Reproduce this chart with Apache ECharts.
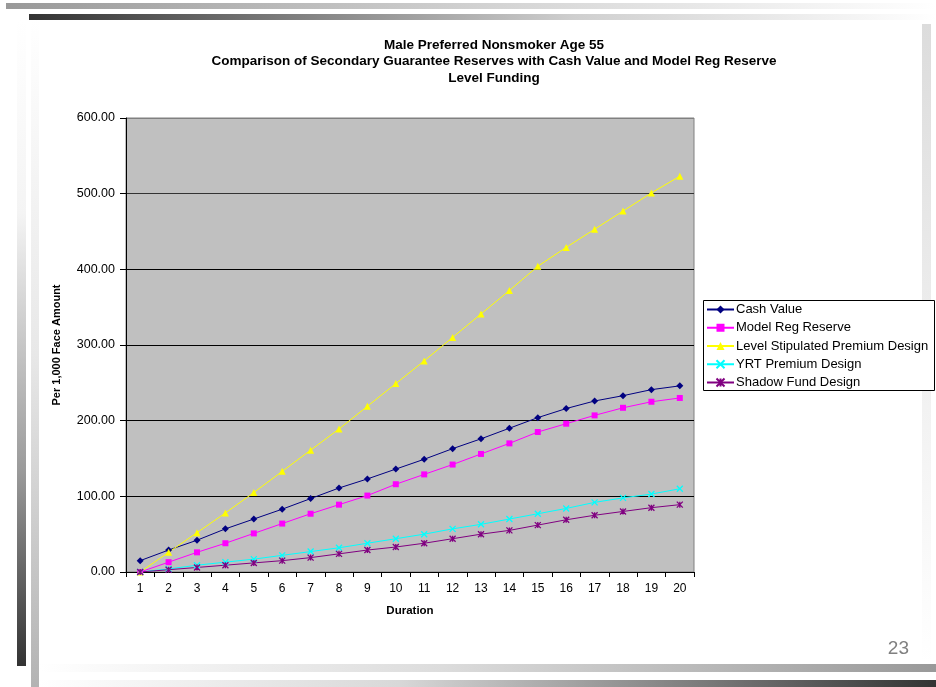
<!DOCTYPE html>
<html>
<head>
<meta charset="utf-8">
<title>Male Preferred Nonsmoker Age 55</title>
<script src="https://cdn.jsdelivr.net/npm/echarts@6/dist/echarts.min.js"></script>
<style>
  html, body { margin: 0; padding: 0; background: #ffffff; }
  #chart { width: 936px; height: 687px; }
</style>
</head>
<body>
<div id="chart"></div>
<script>
// Policy durations (years)
const durations = ['1','2','3','4','5','6','7','8','9','10','11','12','13','14','15','16','17','18','19','20'];

// Reserve and value amounts per 1,000 face amount
const cashValue = [15, 29, 42, 57, 70, 83, 97, 111, 123, 136, 149, 163, 176, 190, 204, 216, 226, 233, 241, 246];
const modelRegReserve = [0, 13, 26, 38, 51, 64, 77, 89, 101, 116, 129, 142, 156, 170, 185, 196, 207, 217, 225, 230];
const levelStipulated = [0, 26, 52, 78, 105, 133, 161, 189, 219, 249, 279, 310, 341, 372, 404, 429, 453, 477, 501, 523];
const yrtPremium = [0, 4, 9, 13, 17, 22, 27, 32, 38, 44, 50, 57, 63, 70, 77, 84, 92, 98, 103, 110];
const shadowFund = [0, 3, 6, 9, 12, 15, 19, 24, 29, 33, 38, 44, 50, 55, 62, 69, 75, 80, 85, 89];

// Value axis ticks
const yTicks = [0, 100, 200, 300, 400, 500, 600];

const seriesNames = [
  'Cash Value',
  'Model Reg Reserve',
  'Level Stipulated Premium Design',
  'YRT Premium Design',
  'Shadow Fund Design'
];

const FONT = '"Liberation Sans", Arial, sans-serif';
const xMark = 'path://M0,0L10,10M10,0L0,10';
const starMark = 'path://M0,0L10,10M10,0L0,10M5,0L5,10';

function lineSeries(name, data, color, symbol, size, stroked) {
  return {
    name: name,
    type: 'line',
    data: data,
    symbol: symbol,
    symbolSize: size,
    showAllSymbol: true,
    animation: false,
    lineStyle: { color: color, width: 1 },
    itemStyle: stroked
      ? { color: color, borderColor: color, borderWidth: 1.3 }
      : { color: color, borderWidth: 0 },
    emphasis: { disabled: true }
  };
}

const chart = echarts.init(document.getElementById('chart'), null, { renderer: 'canvas' });

const option = {
  animation: false,
  backgroundColor: '#ffffff',
  textStyle: { fontFamily: FONT },
  title: {
    text: 'Male Preferred Nonsmoker Age 55\nComparison of Secondary Guarantee Reserves with Cash Value and Model Reg Reserve\nLevel Funding',
    left: 489,
    top: 32,
    textAlign: 'center',
    textStyle: { fontFamily: FONT, fontSize: 13.5, fontWeight: 'bold', color: '#000', lineHeight: 16.5 }
  },
  graphic: [
    // slide header bars
    { type: 'rect', z: -10, shape: { x: 6, y: 3, width: 930, height: 6 },
      style: { fill: new echarts.graphic.LinearGradient(0, 0, 1, 0, [
        { offset: 0, color: '#999999' }, { offset: 0.55, color: '#d6d6d6' }, { offset: 1, color: '#ffffff' }]) } },
    { type: 'rect', z: -10, shape: { x: 29, y: 14, width: 907, height: 6 },
      style: { fill: new echarts.graphic.LinearGradient(0, 0, 1, 0, [
        { offset: 0, color: '#333333' }, { offset: 0.6, color: '#cfcfcf' }, { offset: 1, color: '#ffffff' }]) } },
    // slide side bars
    { type: 'rect', z: -10, shape: { x: 17, y: 20, width: 9, height: 646 },
      style: { fill: new echarts.graphic.LinearGradient(0, 0, 0, 1, [
        { offset: 0, color: '#ffffff' }, { offset: 0.3, color: '#f4f4f4' }, { offset: 0.7, color: '#9a9a9a' }, { offset: 1, color: '#333333' }]) } },
    { type: 'rect', z: -10, shape: { x: 31, y: 20, width: 8, height: 667 },
      style: { fill: new echarts.graphic.LinearGradient(0, 0, 0, 1, [
        { offset: 0, color: '#ffffff' }, { offset: 0.5, color: '#e8e8e8' }, { offset: 1, color: '#b3b3b3' }]) } },
    { type: 'rect', z: -10, shape: { x: 922, y: 24, width: 9, height: 640 },
      style: { fill: new echarts.graphic.LinearGradient(0, 0, 0, 1, [
        { offset: 0, color: '#dcdcdc' }, { offset: 0.6, color: '#f2f2f2' }, { offset: 1, color: '#ffffff' }]) } },
    // slide footer bars
    { type: 'rect', z: -10, shape: { x: 40, y: 664, width: 896, height: 8 },
      style: { fill: new echarts.graphic.LinearGradient(0, 0, 1, 0, [
        { offset: 0, color: '#ffffff' }, { offset: 0.45, color: '#dcdcdc' }, { offset: 1, color: '#999999' }]) } },
    { type: 'rect', z: -10, shape: { x: 40, y: 680, width: 896, height: 7 },
      style: { fill: new echarts.graphic.LinearGradient(0, 0, 1, 0, [
        { offset: 0, color: '#ffffff' }, { offset: 0.4, color: '#d8d8d8' }, { offset: 1, color: '#333333' }]) } },
    // page number
    { type: 'text', z: 5, x: 909, y: 649,
      style: { text: '23', fontFamily: FONT, fontSize: 19, fill: '#808080', align: 'right', verticalAlign: 'middle' } },
    // legend frame
    { type: 'rect', z: 3, shape: { x: 703.5, y: 300.5, width: 231, height: 90 },
      style: { fill: '#ffffff', stroke: '#000000', lineWidth: 1 } }
  ],
  legend: {
    orient: 'vertical',
    left: 703,
    top: 300,
    padding: [3, 4, 4, 3],
    itemWidth: 27,
    itemHeight: 10,
    itemGap: 5.25,
    z: 6,
    selectedMode: false,
    data: seriesNames,
    textStyle: { fontFamily: FONT, fontSize: 13, color: '#000', padding: [0, 0, 0, -3] }
  },
  grid: {
    left: 126,
    top: 118,
    width: 568,
    height: 454,
    show: true,
    backgroundColor: '#C0C0C0',
    borderColor: '#808080',
    borderWidth: 1
  },
  xAxis: {
    type: 'category',
    data: durations,
    boundaryGap: true,
    name: 'Duration',
    nameLocation: 'middle',
    nameGap: 33,
    nameTextStyle: { fontFamily: FONT, fontSize: 11.5, fontWeight: 'bold', color: '#000' },
    axisLine: { lineStyle: { color: '#000', width: 1 } },
    axisTick: { show: true, length: 5, alignWithLabel: false, lineStyle: { color: '#000' } },
    axisLabel: { fontFamily: FONT, fontSize: 12, color: '#000', margin: 11, interval: 0 },
    splitLine: { show: false }
  },
  yAxis: {
    type: 'value',
    min: yTicks[0],
    max: yTicks[yTicks.length - 1],
    interval: 100,
    name: 'Per 1,000 Face Amount',
    nameLocation: 'middle',
    nameGap: 64,
    nameTextStyle: { fontFamily: FONT, fontSize: 11, fontWeight: 'bold', color: '#000' },
    axisLine: { show: true, lineStyle: { color: '#000', width: 1 } },
    axisTick: { show: true, length: 6, lineStyle: { color: '#000' } },
    axisLabel: {
      fontFamily: FONT, fontSize: 12.5, color: '#000', margin: 11,
      formatter: function (v) { return v.toFixed(2); }
    },
    splitLine: { show: true, lineStyle: { color: ['#000', '#000', '#000', '#000', '#000', '#333', '#808080'], width: 1 } }
  },
  series: [
    lineSeries(seriesNames[0], cashValue, '#000080', 'diamond', 7, false),
    lineSeries(seriesNames[1], modelRegReserve, '#FF00FF', 'rect', 6, false),
    lineSeries(seriesNames[2], levelStipulated, '#FFFF00', 'triangle', 7, false),
    lineSeries(seriesNames[3], yrtPremium, '#00FFFF', xMark, 6, true),
    lineSeries(seriesNames[4], shadowFund, '#800080', starMark, 6, true)
  ]
};

chart.setOption(option);
</script>
</body>
</html>
